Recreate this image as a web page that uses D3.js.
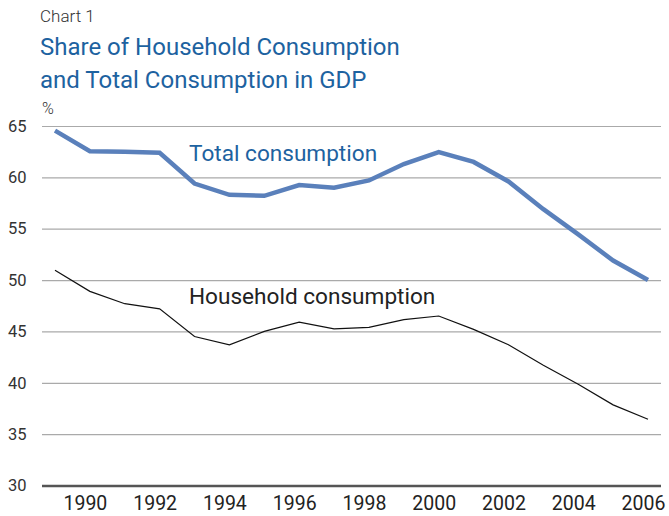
<!DOCTYPE html>
<html>
<head>
<meta charset="utf-8">
<script src="https://cdn.jsdelivr.net/npm/d3@7"></script>
<style>
  body { margin: 0; background: #fff; }
  text { font-family: Roboto, "Noto Sans", sans-serif; }
</style>
</head>
<body>
<div id="viz"></div>
<script>
const w = 669;
const h = 516;

// data
const years = [1989, 1990, 1991, 1992, 1993, 1994, 1995, 1996, 1997, 1998,
               1999, 2000, 2001, 2002, 2003, 2004, 2005, 2006];
const totalConsumption = [64.55, 62.55, 62.5, 62.4, 59.4, 58.3, 58.2, 59.25, 59.0, 59.7,
                          61.3, 62.45, 61.5, 59.6, 56.9, 54.45, 51.9, 50.0];
const householdConsumption = [50.95, 48.9, 47.7, 47.2, 44.5, 43.7, 45.0, 45.9, 45.25, 45.4,
                              46.15, 46.5, 45.2, 43.7, 41.7, 39.85, 37.85, 36.45];
const yTicks = [30, 35, 40, 45, 50, 55, 60, 65];
const xTicks = [1990, 1992, 1994, 1996, 1998, 2000, 2002, 2004, 2006];

const svg = d3.select('#viz').append('svg')
    .attr('width', w)
    .attr('height', h)

const x = d3.scaleLinear().domain([1989, 2006]).range([55, 648])
const y = d3.scaleLinear().domain([30, 65]).range([485.5, 126])

// titles
svg.append('text')
    .attr('x', 40).attr('y', 22)
    .attr('font-size', 17)
    .attr('font-weight', 300)
    .attr('fill', '#333')
    .text('Chart 1')

const title = svg.append('text')
    .attr('font-size', 24)
    .attr('fill', '#1d62a0')
title.append('tspan').attr('x', 40).attr('y', 55).text('Share of Household Consumption')
title.append('tspan').attr('x', 40).attr('y', 88).text('and Total Consumption in GDP')

svg.append('text')
    .attr('x', 42).attr('y', 114)
    .attr('font-size', 16)
    .attr('font-weight', 300)
    .attr('fill', '#333')
    .text('%')

// gridlines
const yAxis = svg.append('g')
    .attr('transform', `translate(42,0)`)
    .call(d3.axisLeft(y).tickValues(yTicks).tickSize(-619).tickPadding(13))
yAxis.select('.domain').remove()
yAxis.selectAll('line')
    .attr('stroke', d => d === 30 ? '#555' : '#aaa')
    .attr('stroke-width', d => d === 30 ? 2.5 : 1.2)
yAxis.selectAll('text')
    .attr('font-size', 16.5)
    .attr('fill', '#333')
    .attr('text-anchor', 'start')
    .attr('x', -34)

const xAxis = svg.append('g')
    .attr('transform', `translate(0,486)`)
    .call(d3.axisBottom(x).tickValues(xTicks).tickFormat(d3.format('d')).tickSize(0).tickPadding(10))
xAxis.select('.domain').remove()
xAxis.selectAll('text')
    .attr('font-size', 19.5)
    .attr('fill', '#222')
    .attr('dx', -5)

// lines
const line = d3.line()
    .x((d, i) => x(years[i]))
    .y(d => y(d))

svg.append('path')
    .datum(householdConsumption)
    .attr('d', line)
    .attr('fill', 'none')
    .attr('stroke', '#111')
    .attr('stroke-width', 1.2)

svg.append('path')
    .datum(totalConsumption)
    .attr('d', line)
    .attr('fill', 'none')
    .attr('stroke', '#5a80bb')
    .attr('stroke-width', 4.5)

// labels
svg.append('text')
    .attr('x', 189).attr('y', 161)
    .attr('font-size', 22.6)
    .attr('fill', '#1d62a0')
    .text('Total consumption')

svg.append('text')
    .attr('x', 189).attr('y', 304)
    .attr('font-size', 22.6)
    .attr('fill', '#222')
    .text('Household consumption')
</script>
</body>
</html>
